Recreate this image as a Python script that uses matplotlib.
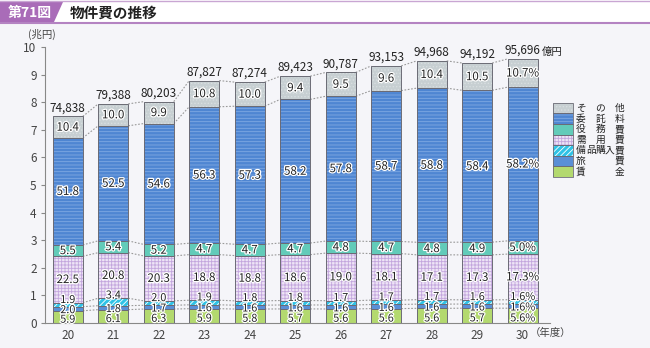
import numpy as np
import matplotlib.pyplot as plt
import matplotlib.patheffects as pe
from matplotlib.patches import Rectangle, Polygon

plt.rcParams['font.family'] = ['Noto Sans CJK JP', 'DejaVu Sans']
plt.rcParams['hatch.linewidth'] = 0.6

years = ['20', '21', '22', '23', '24', '25', '26', '27', '28', '29', '30']
totals = [74838, 79388, 80203, 87827, 87274, 89423, 90787, 93153, 94968, 94192, 95696]  # 億円

# 構成比（%）下から順に
chingin = [5.9, 6.1, 6.3, 5.9, 5.8, 5.7, 5.6, 5.6, 5.6, 5.7, 5.6]
ryohi = [2.0, 1.8, 1.7, 1.6, 1.6, 1.6, 1.6, 1.6, 1.6, 1.6, 1.6]
bihin = [1.9, 3.4, 2.0, 1.9, 1.8, 1.8, 1.7, 1.7, 1.7, 1.6, 1.6]
juyo = [22.5, 20.8, 20.3, 18.8, 18.8, 18.6, 19.0, 18.1, 17.1, 17.3, 17.3]
ekimu = [5.5, 5.4, 5.2, 4.7, 4.7, 4.7, 4.8, 4.7, 4.8, 4.9, 5.0]
itaku = [51.8, 52.5, 54.6, 56.3, 57.3, 58.2, 57.8, 58.7, 58.8, 58.4, 58.2]
sonota = [10.4, 10.0, 9.9, 10.8, 10.0, 9.4, 9.5, 9.6, 10.4, 10.5, 10.7]

series = [chingin, ryohi, bihin, juyo, ekimu, itaku, sonota]
names = ['賃　　　金', '旅　　　費', '備品購入費', '需　用　費', '役　務　費', '委　託　料', 'そ　の　他']
# (塗り色, ハッチ色, ハッチ)
styles = [
    ('#b3d96f', '#b3d96f', ''),
    ('#5a8fd6', '#5a8fd6', ''),
    ('#2fc3e6', '#ffffff', '//////'),
    ('#eee4f6', '#c3a6dd', '+++++'),
    ('#62cbb9', '#62cbb9', ''),
    ('#4f86d2', '#7fa9e2', '-----'),
    ('#c7cfd2', '#d8dee0', '.....'),
]

BG = '#f5f5f9'
W, H = 650, 348
fig = plt.figure(figsize=(6.5, 3.48), dpi=100, facecolor=BG)

# 見出し
fig.patches.append(Rectangle((0, 1 - 23 / H), 1, 23 / H, transform=fig.transFigure,
                             facecolor='white', edgecolor='none'))
fig.lines.append(plt.Line2D([0, 1], [1 - 23 / H, 1 - 23 / H], transform=fig.transFigure,
                            color='#b483c2', lw=1.5))
fig.lines.append(plt.Line2D([0, 1], [1 - 1 / H, 1 - 1 / H], transform=fig.transFigure,
                            color='#c9a6d3', lw=1))
box = [(0, 2), (63, 2), (54, 22), (0, 22)]
fig.patches.append(Polygon([(x / W, 1 - y / H) for x, y in box], closed=True,
                           transform=fig.transFigure, facecolor='#a96cb8', edgecolor='none'))
fig.text(8 / W, 1 - 12.5 / H, '第71図', color='white', fontsize=10, fontweight='bold',
         va='center', ha='left')
fig.text(70 / W, 1 - 12.5 / H, '物件費の推移', color='#222222', fontsize=10.5,
         fontweight='bold', va='center', ha='left')

ax = fig.add_axes([45 / W, 1 - 323 / H, 505 / W, 276 / H])
ax.set_facecolor(BG)

x = np.arange(len(years))
width = 0.66
tot = np.array(totals) / 10000.0
pct = np.array(series)
heights = pct / 100.0 * tot
bottoms = np.vstack([np.zeros(len(x)), np.cumsum(heights, axis=0)[:-1]])
tops = bottoms + heights

for i, (fc, hc, hatch) in enumerate(styles):
    ax.bar(x, heights[i], width, bottom=bottoms[i], color=fc, edgecolor=hc,
           hatch=hatch, linewidth=0, zorder=2)
    ax.bar(x, heights[i], width, bottom=bottoms[i], facecolor='none',
           edgecolor='#6b6b75', linewidth=0.7, zorder=3)

# 区切りの点線
for k in range(len(series)):
    for j in range(len(x) - 1):
        ax.plot([x[j] + width / 2, x[j + 1] - width / 2], [tops[k, j], tops[k, j + 1]],
                ls=(0, (1.5, 1.5)), color='#999999', lw=0.8, zorder=1)

stroke = [pe.withStroke(linewidth=1.8, foreground='white')]
lab_kw = dict(ha='center', va='center', color='#222222', path_effects=stroke, zorder=5)

for j in range(len(x)):
    suf = '%' if j == len(x) - 1 else ''
    ys = [
        (bottoms[0, j] + tops[0, j]) / 2 - 0.1,
        (bottoms[1, j] + tops[1, j]) / 2 - 0.05,
        tops[2, j] + 0.1,
        (bottoms[3, j] + tops[3, j]) / 2,
        (bottoms[4, j] + tops[4, j]) / 2,
        (bottoms[5, j] + tops[5, j]) / 2,
        (bottoms[6, j] + tops[6, j]) / 2,
    ]
    for k in range(len(series)):
        fs = 7.8 if k < 3 else 8.3
        ax.text(x[j], ys[k], f'{pct[k, j]:.1f}{suf}', fontsize=fs, **lab_kw)
    ax.text(x[j], tot[j] + 0.08, f'{totals[j]:,}', ha='center', va='bottom',
            fontsize=8.5, color='#222222', zorder=5)
    if j == len(x) - 1:
        ax.annotate('億円', (x[j], tot[j] + 0.08), xytext=(14, 0), textcoords='offset points',
                    ha='left', va='bottom', fontsize=7.5, color='#222222')

ax.set_xlim(-0.5, 10.6)
ax.set_ylim(0, 10)
ax.set_yticks(range(11))
ax.set_xticks(x)
ax.set_xticklabels(years)
ax.tick_params(axis='both', colors='#888888', labelcolor='#444444', labelsize=8.5)
ax.tick_params(axis='x', length=0, pad=4)
ax.tick_params(axis='y', length=3, pad=3)
for s in ['top', 'right']:
    ax.spines[s].set_visible(False)
for s in ['left', 'bottom']:
    ax.spines[s].set_color('#888888')
    ax.spines[s].set_linewidth(0.8)

fig.text(28 / W, 1 - 34 / H, '(兆円)', fontsize=7.5, color='#444444', va='center', ha='left')
fig.text(530 / W, 1 - 333 / H, '（年度）', fontsize=7.5, color='#444444', va='center', ha='left')

# 凡例
for i, (fc, hc, hatch) in enumerate(styles):
    y0 = 177 - (i + 1) * 10.6
    fig.patches.append(Rectangle((553 / W, 1 - (y0 + 10.6) / H), 20 / W, 10.6 / H,
                                 transform=fig.transFigure, facecolor=fc, edgecolor=hc,
                                 hatch=hatch, linewidth=0))
    fig.patches.append(Rectangle((553 / W, 1 - (y0 + 10.6) / H), 20 / W, 10.6 / H,
                                 transform=fig.transFigure, facecolor='none',
                                 edgecolor='#6b6b75', linewidth=0.6))
    for c, ch in enumerate(names[i]):
        if ch != '　':
            fig.text((581 + c * 9.6) / W, 1 - (y0 + 5.3) / H, ch, fontsize=7,
                     color='#222222', ha='center', va='center')

fig.savefig('out.png', dpi=100, facecolor=BG)
